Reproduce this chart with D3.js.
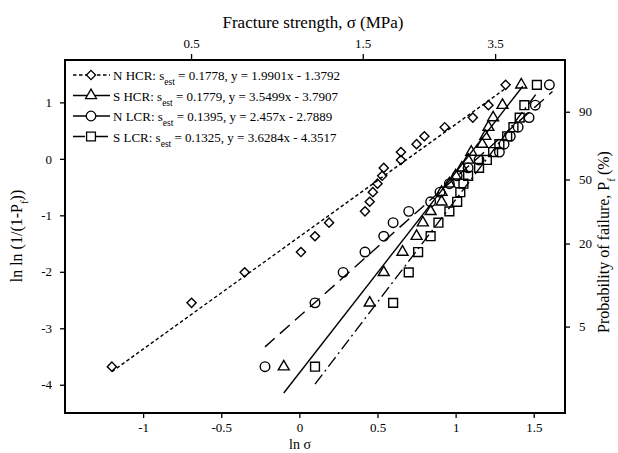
<!DOCTYPE html>
<html>
<head>
<meta charset="utf-8">
<script src="https://cdn.jsdelivr.net/npm/d3@7"></script>
<style>
  body { margin: 0; background: #fff; }
  svg text { font-family: "Liberation Serif", "Times New Roman", serif; fill: #000; }
</style>
</head>
<body>
<div id="chart"></div>
<script>
// tick values
const lnSigmaTicks = [-1, -0.5, 0, 0.5, 1, 1.5];
const lnlnTicks = [-4, -3, -2, -1, 0, 1];
const sigmaTicks = [0.5, 1.5, 3.5];
const pfTicks = [90, 50, 20, 5];

// shared ordinate of the ranked specimens (ln ln (1/(1-Pf)))
const rankY = [-3.68, -2.55, -2.01, -1.65, -1.37, -1.13, -0.93, -0.76, -0.59, -0.44,
               -0.30, -0.16, -0.02, 0.12, 0.26, 0.40, 0.56, 0.73, 0.95, 1.31];

// ln sigma of each specimen, per series
const nhcrX = [-1.20, -0.69, -0.35, 0.01, 0.10, 0.19, 0.42, 0.45, 0.47, 0.50,
               0.53, 0.54, 0.65, 0.65, 0.75, 0.80, 0.93, 1.11, 1.21, 1.32];
const shcrX = [-0.10, 0.45, 0.54, 0.66, 0.75, 0.79, 0.84, 0.91, 0.91, 0.96,
               1.00, 1.04, 1.08, 1.10, 1.17, 1.19, 1.21, 1.24, 1.30, 1.42];
const nlcrX = [-0.22, 0.10, 0.28, 0.42, 0.54, 0.60, 0.70, 0.84, 0.90, 0.96,
               1.01, 1.08, 1.15, 1.28, 1.31, 1.35, 1.40, 1.47, 1.51, 1.60];
const slcrX = [0.10, 0.60, 0.70, 0.76, 0.84, 0.89, 0.96, 1.01, 1.03, 1.05,
               1.08, 1.15, 1.20, 1.24, 1.28, 1.33, 1.37, 1.41, 1.44, 1.52];

// fitted lines
const seriesNames = ['N HCR', 'S HCR', 'N LCR', 'S LCR'];
const sEst = ['0.1778', '0.1779', '0.1395', '0.1325'];
const fitSlope = [1.9901, 3.5499, 2.457, 3.6284];
const fitIntercept = [-1.3792, -3.7907, -2.7889, -4.3517];
const fitFrom = [-1.2, -0.1, -0.22, 0.1];
const fitTo = [1.32, 1.43, 1.62, 1.52];

const width = 618, height = 453;
const svg = d3.select('#chart').append('svg')
  .attr('width', width)
  .attr('height', height);

const x = d3.scaleLinear().domain([-1.5, 1.7]).range([65, 565]);
const y = d3.scaleLinear().domain([-4.5, 1.75]).range([413, 60]);
const xTop = d3.scaleLog().domain([Math.exp(-1.5), Math.exp(1.7)]).range([65, 565]);
const lnln = p => Math.log(-Math.log(1 - p / 100));

// axes
function styleAxis(g) {
  g.select('.domain').remove();
  g.selectAll('.tick line').attr('stroke', '#000').attr('stroke-width', 1.3);
  g.selectAll('.tick text').style('font-size', '13px');
}

svg.append('g')
  .attr('transform', 'translate(0,413)')
  .call(d3.axisBottom(x).tickValues(lnSigmaTicks).tickSize(5).tickPadding(5).tickFormat(d => String(d)))
  .call(styleAxis);

svg.append('g')
  .attr('transform', 'translate(65,0)')
  .call(d3.axisLeft(y).tickValues(lnlnTicks).tickSize(5).tickPadding(8).tickFormat(d => String(d)))
  .call(styleAxis);

svg.append('g')
  .attr('transform', 'translate(0,60)')
  .call(d3.axisTop(xTop).tickValues(sigmaTicks).tickSize(6).tickPadding(6).tickFormat(d => String(d)))
  .call(styleAxis);

svg.append('g')
  .attr('transform', 'translate(565,0)')
  .call(d3.axisRight(y).tickValues(pfTicks.map(lnln)).tickSize(5).tickPadding(9)
    .tickFormat((d, i) => pfTicks[i]))
  .call(styleAxis);

// frame
svg.append('rect')
  .attr('x', 65).attr('y', 60)
  .attr('width', 500).attr('height', 353)
  .attr('fill', 'none')
  .attr('stroke', '#000')
  .attr('stroke-width', 2);

// titles
svg.append('text')
  .attr('x', 313).attr('y', 28)
  .attr('text-anchor', 'middle')
  .style('font-size', '17px')
  .text('Fracture strength,  σ (MPa)');

svg.append('text')
  .attr('x', 300).attr('y', 449)
  .attr('text-anchor', 'middle')
  .style('font-size', '14px')
  .text('ln σ');

const leftTitle = svg.append('text')
  .attr('transform', 'translate(22,236) rotate(-90)')
  .attr('text-anchor', 'middle')
  .style('font-size', '16px');
leftTitle.append('tspan').text('ln ln (1/(1-P');
leftTitle.append('tspan').attr('baseline-shift', 'sub').style('font-size', '11px').text('f');
leftTitle.append('tspan').text('))');

const rightTitle = svg.append('text')
  .attr('transform', 'translate(609,242) rotate(-90)')
  .attr('text-anchor', 'middle')
  .style('font-size', '16px');
rightTitle.append('tspan').text('Probability of failure, P');
rightTitle.append('tspan').attr('baseline-shift', 'sub').style('font-size', '11px').text('f');
rightTitle.append('tspan').attr('dx', 3).text('(%)');

// series styles
const dashes = ['3.5,2.5', null, '13,7', '12,4,2,4'];
const legendDashes = ['3.5,2.5', null, null, '12,5,2,4'];
const shapes = [
  d3.symbol().type(d3.symbolSquare).size(42),
  d3.symbol().type(d3.symbolTriangle).size(52),
  d3.symbol().type(d3.symbolCircle).size(72),
  d3.symbol().type(d3.symbolSquare).size(78)
];
const rotations = [45, 0, 0, 0];
const seriesX = [nhcrX, shcrX, nlcrX, slcrX];

const plot = svg.append('g');

// fit lines
const line = d3.line().x(d => x(d[0])).y(d => y(d[1]));
seriesNames.forEach((name, i) => {
  const pts = [fitFrom[i], fitTo[i]].map(v => [v, fitSlope[i] * v + fitIntercept[i]]);
  plot.append('path')
    .attr('d', line(pts))
    .attr('fill', 'none')
    .attr('stroke', '#000')
    .attr('stroke-width', 1.4)
    .attr('stroke-dasharray', dashes[i]);
});

// markers
seriesNames.forEach((name, i) => {
  plot.selectAll('.m' + i)
    .data(seriesX[i].map((v, k) => [v, rankY[k]]))
    .enter()
    .append('path')
    .attr('class', 'm' + i)
    .attr('d', shapes[i])
    .attr('transform', d => `translate(${x(d[0])},${y(d[1])}) rotate(${rotations[i]})`)
    .attr('fill', 'none')
    .attr('stroke', '#000')
    .attr('stroke-width', 1.4);
});

// legend
const legendY = [75, 95.5, 116, 136.5];
const eqText = ['y = 1.9901x - 1.3792', 'y = 3.5499x - 3.7907', 'y = 2.457x - 2.7889', 'y = 3.6284x - 4.3517'];
seriesNames.forEach((name, i) => {
  const g = svg.append('g').attr('transform', `translate(0,${legendY[i]})`);
  g.append('line')
    .attr('x1', 73).attr('x2', 110)
    .attr('stroke', '#000')
    .attr('stroke-width', 1.4)
    .attr('stroke-dasharray', legendDashes[i]);
  g.append('path')
    .attr('d', shapes[i])
    .attr('transform', `translate(91,0) rotate(${rotations[i]})`)
    .attr('fill', '#fff')
    .attr('stroke', '#000')
    .attr('stroke-width', 1.3);
  const t = g.append('text')
    .attr('x', 113).attr('y', 5)
    .style('font-size', '13px');
  t.append('tspan').text(name + ': s');
  t.append('tspan').attr('baseline-shift', 'sub').style('font-size', '9.5px').text('est');
  t.append('tspan').text(' = ' + sEst[i] + ', ' + eqText[i]);
});
</script>
</body>
</html>
